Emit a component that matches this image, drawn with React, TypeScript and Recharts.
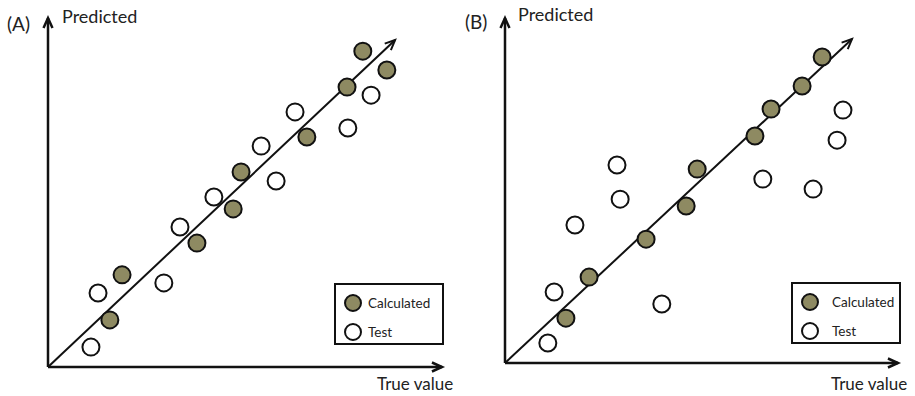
import { ScatterChart, Scatter, XAxis, YAxis, ReferenceLine } from "recharts"

// panel A readings (0-100 on both axes)
const calcA = [
  { x: 79.9, y: 90.5 }, { x: 86.0, y: 85.1 }, { x: 75.9, y: 80.2 },
  { x: 65.7, y: 65.9 }, { x: 49.0, y: 55.9 }, { x: 47.0, y: 45.3 },
  { x: 37.8, y: 35.5 }, { x: 18.8, y: 26.4 }, { x: 15.7, y: 13.5 },
]
const testA = [
  { x: 82.0, y: 77.9 }, { x: 76.1, y: 68.5 }, { x: 62.7, y: 73.1 },
  { x: 54.1, y: 63.3 }, { x: 57.9, y: 53.3 }, { x: 42.1, y: 48.7 },
  { x: 33.5, y: 40.1 }, { x: 29.4, y: 24.1 }, { x: 12.7, y: 21.2 },
  { x: 10.9, y: 5.7 },
]
const diagA = { x: 88.1, y: 93.7 }

// panel B readings
const calcB = [
  { x: 80.7, y: 88.7 }, { x: 75.6, y: 80.3 }, { x: 67.7, y: 73.6 },
  { x: 63.6, y: 65.8 }, { x: 48.9, y: 56.2 }, { x: 46.1, y: 45.5 },
  { x: 35.9, y: 35.9 }, { x: 21.4, y: 24.9 }, { x: 15.5, y: 13.0 },
]
const testB = [
  { x: 86.0, y: 73.3 }, { x: 84.5, y: 64.6 }, { x: 65.6, y: 53.3 },
  { x: 78.4, y: 50.4 }, { x: 28.5, y: 57.4 }, { x: 29.3, y: 47.5 },
  { x: 17.8, y: 40.0 }, { x: 39.9, y: 17.1 }, { x: 12.5, y: 20.6 },
  { x: 10.9, y: 5.8 },
]
const diagB = { x: 88.3, y: 93.9 }

const seriesNames = ["Calculated", "Test"]
const FILL = "#8e8a62"
const FONT = "Lato, 'Open Sans', sans-serif"

const Arrow = (props: any) => {
  const { x1, y1, x2, y2, width } = props
  const sw = width || 2
  const ang = Math.atan2(y2 - y1, x2 - x1)
  const len = 11
  const spread = 0.42
  const p1 = [x2 - len * Math.cos(ang - spread), y2 - len * Math.sin(ang - spread)]
  const p2 = [x2 - len * Math.cos(ang + spread), y2 - len * Math.sin(ang + spread)]
  return (
    <g>
      <line x1={x1} y1={y1} x2={x2} y2={y2} stroke="#111" strokeWidth={sw} />
      <polyline points={`${p1[0]},${p1[1]} ${x2},${y2} ${p2[0]},${p2[1]}`} fill="none" stroke="#111" strokeWidth={sw} />
    </g>
  )
}

const axisShape = (w: number) => (p: any) => <Arrow x1={p.x1} y1={p.y1} x2={p.x2} y2={p.y2} width={w} />

const LegendBox = ({ left, top, gap }: { left: number; top: number; gap: number }) => (
  <div style={{ position: "absolute", left, top, border: "2.5px solid #111", width: 110, height: 62, boxSizing: "border-box", padding: "3px 0 0 7px", fontFamily: FONT, fontSize: 13.5, color: "#222" }}>
    {seriesNames.map((n, i) => (
      <div key={n} style={{ display: "flex", alignItems: "center", height: 29 }}>
        <svg width={20} height={20}>
          <circle cx={10} cy={10} r={8} fill={i === 0 ? FILL : "#fff"} stroke="#111" strokeWidth={2} />
        </svg>
        <span style={{ marginLeft: gap }}>{n}</span>
      </div>
    ))}
  </div>
)

const dot = (fill: string) => (p: any) => (
  <circle cx={p.cx} cy={p.cy} r={8.5} fill={fill} stroke="#111" strokeWidth={2} />
)

type PanelProps = {
  calc: { x: number; y: number }[]
  test: { x: number; y: number }[]
  diag: { x: number; y: number }
  width: number
  margin: { top: number; right: number; bottom: number; left: number }
}

const Panel = ({ calc, test, diag, width, margin }: PanelProps) => (
  <ScatterChart width={width} height={396} margin={margin}>
    <XAxis type="number" dataKey="x" domain={[0, 100]} hide />
    <YAxis type="number" dataKey="y" domain={[0, 100]} hide />
    <ReferenceLine segment={[{ x: 0, y: 0 }, { x: 100, y: 0 }]} ifOverflow="visible" shape={axisShape(2.5)} />
    <ReferenceLine segment={[{ x: 0, y: 0 }, { x: 0, y: 100 }]} ifOverflow="visible" shape={axisShape(2.5)} />
    <ReferenceLine segment={[{ x: 0, y: 0 }, diag]} ifOverflow="visible" shape={axisShape(2)} />
    <Scatter name={seriesNames[0]} data={calc} shape={dot(FILL)} isAnimationActive={false} />
    <Scatter name={seriesNames[1]} data={test} shape={dot("#fff")} isAnimationActive={false} />
  </ScatterChart>
)

const txt = (left: number, top: number, size: number): React.CSSProperties => ({
  position: "absolute", left, top, fontFamily: FONT, fontSize: size, color: "#222", whiteSpace: "nowrap", lineHeight: 1.2,
})

export default function App() {
  return (
    <div style={{ position: "absolute", left: 0, top: 0, width: 915, height: 396, background: "#fff", overflow: "hidden" }}>
      <div style={{ position: "absolute", left: 0, top: 0 }}>
        <Panel calc={calcA} test={testA} diag={diagA} width={455}
          margin={{ top: 18, right: 13, bottom: 29, left: 48 }} />
      </div>
      <div style={{ position: "absolute", left: 455, top: 0 }}>
        <Panel calc={calcB} test={testB} diag={diagB} width={460}
          margin={{ top: 18, right: 17, bottom: 33, left: 50 }} />
      </div>
      <LegendBox left={334} top={283} gap={5} />
      <LegendBox left={791} top={282} gap={12} />
      <div style={txt(7, 13, 19)}>(A)</div>
      <div style={txt(62, 6, 18)}>Predicted</div>
      <div style={txt(377, 374, 17)}>True value</div>
      <div style={txt(465, 11, 19)}>(B)</div>
      <div style={txt(518, 4, 18)}>Predicted</div>
      <div style={txt(831, 374, 17)}>True value</div>
    </div>
  )
}
